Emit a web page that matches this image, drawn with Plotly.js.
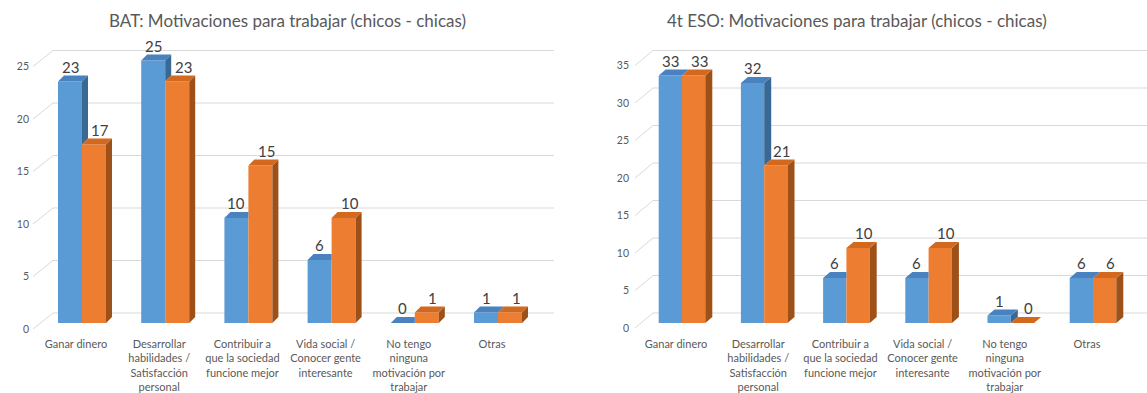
<!DOCTYPE html>
<html>
<head>
<meta charset="utf-8">
<script src="https://cdn.plot.ly/plotly-3.0.1.min.js"></script>
<style>html,body{margin:0;padding:0;background:#fff}#chart{width:1147px;height:393px}</style>
</head>
<body>
<div id="chart"></div>
<script>
// ---- data ----
const categories = [
  "Ganar dinero",
  "Desarrollar<br>habilidades /<br>Satisfacción<br>personal",
  "Contribuir a<br>que la sociedad<br>funcione mejor",
  "Vida social /<br>Conocer gente<br>interesante",
  "No tengo<br>ninguna<br>motivación por<br>trabajar",
  "Otras"
];
const batChicos = [23, 25, 10, 6, 0, 1];
const batChicas = [17, 23, 15, 10, 1, 1];
const esoChicos = [33, 32, 6, 6, 1, 6];
const esoChicas = [33, 21, 10, 10, 0, 6];
const batTicks = [0, 5, 10, 15, 20, 25];
const esoTicks = [0, 5, 10, 15, 20, 25, 30, 35];
const titles = [
  "BAT: Motivaciones para trabajar (chicos - chicas)",
  "4t ESO: Motivaciones para trabajar (chicos - chicas)"
];

// ---- styling ----
const W = 1147, H = 393;
const FONT = "Lato, 'Open Sans', sans-serif";
const BLUE = "#5b9bd5", BLUE_TOP = "#4a82c0", BLUE_SIDE = "#3a6894";
const ORANGE = "#ed7d31", ORANGE_TOP = "#d2691f", ORANGE_SIDE = "#9e5019";
const GRID = "#d9d9d9";

const panels = [
  {xa: "x", ya: "y", chicos: batChicos, chicas: batChicas, ticks: batTicks, title: titles[0], titleX: 287,
   c0: 82, step: 83.2, k: 10.5, base: 323, dom: [30, 570], barPx: 24, dxPx: 6, dyPx: 6,
   back: 10, diagF: 33, diagB: 53, gridEnd: 554, lblDown: 6},
  {xa: "x2", ya: "y2", chicos: esoChicos, chicas: esoChicas, ticks: esoTicks, title: titles[1], titleX: 857,
   c0: 682, step: 82.2, k: 7.5, base: 323, dom: [630, 1147], barPx: 23.3, dxPx: 7, dyPx: 6,
   back: 10, diagF: 635, diagB: 653, gridEnd: 1147, lblDown: 5}
];

const traces = [];
const shapes = [];
const annotations = [];
const layout = {
  width: W, height: H, margin: {l: 0, r: 0, t: 0, b: 0},
  paper_bgcolor: "#fff", plot_bgcolor: "rgba(0,0,0,0)",
  showlegend: false, barmode: "overlay",
  font: {family: FONT, color: "#595959"}
};
const AXBOT = 333;

panels.forEach((p, pi) => {
  const xd = px => (px - p.c0) / p.step;
  const bw = p.barPx / p.step;
  const dx = p.dxPx / p.step, dy = p.dyPx / p.k;
  const idx = categories.map((_, i) => i);
  const sfx = pi === 0 ? "" : "2";

  layout["xaxis" + sfx] = {
    domain: [p.dom[0] / W, p.dom[1] / W],
    range: [xd(p.dom[0]), xd(p.dom[1])],
    anchor: "y" + sfx,
    tickvals: idx, ticktext: categories,
    tickfont: {family: FONT, size: 11, color: "#595959"},
    ticklabelshift: -6, ticklabelstandoff: 3,
    showgrid: false, zeroline: false, showline: false, ticks: "", fixedrange: true
  };
  layout["yaxis" + sfx] = {
    domain: [(H - AXBOT) / H, 1],
    range: [-(AXBOT - p.base) / p.k, p.base / p.k],
    anchor: "x" + sfx,
    tickvals: p.ticks, ticktext: p.ticks.map(String),
    tickfont: {family: FONT, size: 10.5, color: "#595959"},
    ticklabelshift: p.lblDown,
    showgrid: false, zeroline: false, showline: false, ticks: "", fixedrange: true
  };

  // back-wall gridlines and perspective diagonals
  const backOff = p.back / p.k;
  const frontOff = -p.lblDown / p.k;
  p.ticks.forEach(v => {
    shapes.push({type: "line", xref: p.xa, yref: p.ya, x0: xd(p.diagB), x1: xd(p.gridEnd),
      y0: v + backOff, y1: v + backOff, line: {color: GRID, width: 1}, layer: "below"});
    shapes.push({type: "line", xref: p.xa, yref: p.ya, x0: xd(p.diagF), x1: xd(p.diagB),
      y0: v + frontOff, y1: v + backOff, line: {color: GRID, width: 1}, layer: "below"});
  });

  // front faces
  traces.push({type: "bar", x: idx, y: p.chicos, width: idx.map(() => bw), offset: -bw,
    marker: {color: BLUE, line: {width: 0}}, xaxis: p.xa, yaxis: p.ya, hoverinfo: "y", name: "chicos"});
  traces.push({type: "bar", x: idx, y: p.chicas, width: idx.map(() => bw), offset: 0,
    marker: {color: ORANGE, line: {width: 0}}, xaxis: p.xa, yaxis: p.ya, hoverinfo: "y", name: "chicas"});

  // 3D side & top faces, derived from values
  const bSideX = [], bSideY = [], bTopX = [], bTopY = [];
  const oSideX = [], oSideY = [], oTopX = [], oTopY = [];
  idx.forEach(i => {
    const hb = p.chicos[i], ho = p.chicas[i];
    let L = i - bw, R = i;
    const hb0 = Math.min(Math.max(ho, 0), hb);
    bSideX.push(R, R, R + dx, R + dx, R, null);
    bSideY.push(hb0, hb, hb + dy, hb0 + dy, hb0, null);
    if (ho > hb) {
      bTopX.push(L, R, R, L + dx, L, null);
      bTopY.push(hb, hb, hb + dy, hb + dy, hb, null);
    } else {
      bTopX.push(L, R, R + dx, L + dx, L, null);
      bTopY.push(hb, hb, hb + dy, hb + dy, hb, null);
    }
    L = i; R = i + bw;
    oSideX.push(R, R, R + dx, R + dx, R, null);
    oSideY.push(0, ho, ho + dy, dy, 0, null);
    oTopX.push(L, R, R + dx, L + dx, L, null);
    oTopY.push(ho, ho, ho + dy, ho + dy, ho, null);
  });
  const poly = (x, y, c) => ({type: "scatter", mode: "lines", x, y, fill: "toself", fillcolor: c,
    line: {width: 0, color: c}, xaxis: p.xa, yaxis: p.ya, hoverinfo: "skip", connectgaps: false});
  traces.push(poly(bSideX, bSideY, BLUE_SIDE));
  traces.push(poly(bTopX, bTopY, BLUE_TOP));
  traces.push(poly(oSideX, oSideY, ORANGE_SIDE));
  traces.push(poly(oTopX, oTopY, ORANGE_TOP));

  // value labels
  idx.forEach(i => {
    annotations.push({xref: p.xa, yref: p.ya, x: i - bw / 2, y: p.chicos[i], text: String(p.chicos[i]),
      showarrow: false, yanchor: "bottom", yshift: 4, font: {family: FONT, size: 15, color: "#404040"}});
    annotations.push({xref: p.xa, yref: p.ya, x: i + bw / 2, y: p.chicas[i], text: String(p.chicas[i]),
      showarrow: false, yanchor: "bottom", yshift: 4, xshift: 6, font: {family: FONT, size: 15, color: "#404040"}});
  });

  // panel title
  annotations.push({xref: "paper", yref: "paper", x: p.titleX / W, y: 1 - 20 / H, text: p.title,
    showarrow: false, xanchor: "center", yanchor: "middle", font: {family: FONT, size: 17, color: "#595959"}});
});

layout.shapes = shapes;
layout.annotations = annotations;
Plotly.newPlot("chart", traces, layout, {displayModeBar: false, staticPlot: true});
</script>
</body>
</html>
